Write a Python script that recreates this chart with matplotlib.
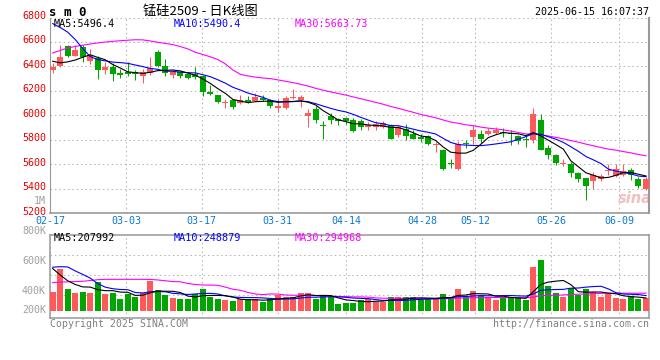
import numpy as np
import pandas as pd
import matplotlib
matplotlib.use("Agg")
import matplotlib.pyplot as plt

# daily bars 02-17 .. 06-13 (80 trading days)
opens = [6369, 6401, 6570, 6488, 6559, 6442, 6469, 6369, 6393, 6344,
         6352, 6352, 6325, 6347, 6516, 6407, 6328, 6352, 6339, 6336,
         6320, 6189, 6162, 6102, 6124, 6097, 6124, 6118, 6143, 6124,
         6059, 6059, 6140, 6121, 5990, 6053, 5920, 5993, 5971, 5975,
         5964, 5953, 5904, 5904, 5904, 5918, 5836, 5890, 5844, 5822,
         5827, 5753, 5712, 5608, 5562, 5767, 5822, 5849, 5849, 5855,
         5858, 5855, 5827, 5808, 5795, 5964, 5734, 5671, 5603, 5597,
         5529, 5488, 5460, 5479, 5542, 5499, 5507, 5548, 5479, 5397]
highs = [6429, 6578, 6572, 6575, 6578, 6543, 6488, 6437, 6429, 6380,
         6437, 6374, 6380, 6478, 6537, 6461, 6374, 6366, 6347, 6396,
         6333, 6244, 6167, 6129, 6135, 6162, 6156, 6184, 6167, 6135,
         6129, 6156, 6211, 6167, 6048, 6075, 5950, 6015, 5980, 5988,
         5981, 5973, 5945, 5953, 5953, 5932, 5918, 5926, 5877, 5844,
         5836, 5781, 5726, 5644, 5789, 5800, 5918, 5882, 5896, 5904,
         5899, 5877, 5836, 5836, 6063, 6014, 5753, 5679, 5644, 5616,
         5535, 5490, 5534, 5521, 5597, 5597, 5597, 5570, 5493, 5493]
lows = [6347, 6398, 6480, 6485, 6434, 6420, 6293, 6341, 6279, 6301,
        6325, 6287, 6265, 6328, 6393, 6325, 6306, 6306, 6293, 6293,
        6156, 6167, 6097, 6056, 6048, 6091, 6097, 6113, 6116, 6059,
        6026, 6048, 6135, 6069, 5900, 5939, 5803, 5925, 5920, 5925,
        5863, 5877, 5882, 5882, 5899, 5803, 5822, 5800, 5803, 5781,
        5753, 5699, 5548, 5570, 5548, 5734, 5762, 5773, 5836, 5844,
        5822, 5753, 5767, 5740, 5773, 5712, 5644, 5589, 5581, 5493,
        5452, 5307, 5397, 5460, 5507, 5493, 5499, 5471, 5405, 5392]
closes = [6396, 6478, 6488, 6537, 6475, 6497, 6369, 6393, 6341, 6333,
          6338, 6341, 6358, 6388, 6401, 6347, 6358, 6320, 6301, 6314,
          6189, 6176, 6107, 6107, 6067, 6124, 6110, 6146, 6124, 6075,
          6075, 6143, 6146, 6151, 6020, 5961, 5912, 5961, 5955, 5955,
          5871, 5904, 5918, 5932, 5937, 5808, 5904, 5827, 5808, 5805,
          5762, 5762, 5562, 5597, 5767, 5762, 5877, 5808, 5871, 5882,
          5852, 5849, 5786, 5795, 6008, 5718, 5671, 5608, 5608, 5526,
          5479, 5425, 5507, 5499, 5548, 5562, 5543, 5507, 5425, 5479]
# volume, thousands
volume = [354, 781, 405, 335, 348, 335, 537, 311, 335, 217,
          311, 248, 335, 555, 386, 292, 242, 217, 217, 311,
          411, 261, 217, 198, 179, 211, 211, 211, 160, 217,
          292, 261, 261, 335, 335, 217, 273, 248, 122, 147,
          147, 198, 211, 166, 166, 248, 248, 248, 248, 198,
          230, 230, 311, 248, 405, 261, 367, 292, 230, 198,
          261, 248, 248, 198, 819, 951, 461, 335, 261, 424,
          292, 411, 354, 261, 311, 242, 217, 273, 217, 230]

# moving-average values at the start of the window (history before 02-17)
ma5_head = [6442, 6429, 6437, 6452]
ma10_head = [6750, 6718, 6680, 6620, 6545, 6480, 6455, 6445, 6435]
ma30_head = [6510, 6530, 6550, 6563, 6573, 6583, 6592, 6599, 6605, 6610,
             6614, 6618, 6617, 6608, 6597, 6588, 6578, 6562, 6543, 6515,
             6497, 6478, 6456, 6420, 6370, 6335, 6322, 6312, 6305]
vma5_head = [790, 668, 560, 490]
vma10_head = [815, 825, 820, 745, 680, 610, 505, 440, 410]
vma30_head = [525, 535, 540, 545, 550, 565, 580, 587, 587, 587,
              587, 587, 587, 585, 575, 560, 545, 540, 510, 490,
              480, 478, 475, 440, 400, 380, 340, 310, 300]

tick_days = [0, 10, 20, 30, 39, 49, 56, 66, 75]
tick_labels = ["02-17", "03-03", "03-17", "03-31", "04-14",
               "04-28", "05-12", "05-26", "06-09"]
price_ticks = [5200, 5400, 5600, 5800, 6000, 6200, 6400, 6600, 6800]


def moving(values, n, head):
    s = pd.Series(values, dtype=float).rolling(n).mean()
    s.iloc[:len(head)] = head
    return s.values


RED = "#ff5a5a"
GREEN = "#00a600"
GRID = "#b4b4b4"
FRAME = "#999999"
MONO = "DejaVu Sans Mono"

W, H = 660, 360
fig = plt.figure(figsize=(6.6, 3.6), dpi=100)


def fx(x):
    return x / W


def fy(y):
    return 1 - y / H


n = len(closes)
x = np.arange(n)
o = np.array(opens); c = np.array(closes)
hi = np.array(highs); lo = np.array(lows)
up = c >= o
cols = [RED if u else GREEN for u in up]
tick_x = [(7.59 * k - 2.7) / 7.51 for k in tick_days]
xlim = (-0.36, 79.44)

# ---- price panel
ax = fig.add_axes([fx(50), fy(213), fx(599.3), (213 - 17.5) / H])
ax.vlines(x, lo, hi, colors=cols, lw=0.75, zorder=2)
body = np.maximum(np.abs(c - o), 9)
ax.bar(x, body, bottom=np.minimum(o, c), width=0.8, color=cols, zorder=3, linewidth=0)
ax.plot(x, moving(closes, 30, ma30_head), color="#ff00ff", lw=0.8, zorder=4)
ax.plot(x, moving(closes, 10, ma10_head), color="#0000ff", lw=0.8, zorder=4)
ax.plot(x, moving(closes, 5, ma5_head), color="black", lw=0.8, zorder=5)
ax.set_xlim(*xlim)
ax.set_ylim(5200, 6800)
ax.set_xticks(tick_x)
ax.set_yticks(price_ticks)
ax.set_xticklabels([])
ax.set_yticklabels([])
ax.tick_params(length=0)
ax.grid(True, color=GRID, lw=0.75, ls=(0, (1.4, 2.8)))
ax.spines["top"].set_visible(False)
ax.spines["left"].set_color(FRAME)
ax.spines["left"].set_linewidth(0.8)
ax.spines["bottom"].set_color(FRAME)
ax.spines["bottom"].set_linewidth(1.2)
ax.spines["right"].set_color(FRAME)
ax.spines["right"].set_linewidth(1.5)

for p in price_ticks:
    yy = 115 - (p - 6000) * 0.1225 - 1.2
    fig.text(fx(46), fy(yy), str(p), color="#e60000", family=MONO, fontsize=7.2,
             ha="right", va="center")
for tx, lab in zip(tick_days, tick_labels):
    fig.text(fx(50 + 7.59 * tx), fy(221.5), lab, color="#0a78d2", family=MONO,
             fontsize=7.2, ha="center", va="center")

ax.text(0.948, 0.035, "sina", transform=ax.transAxes, color="#f3c0c0", fontsize=10.5,
        style="italic", weight="bold", ha="left", va="bottom", zorder=1)

# ---- volume panel
vax = fig.add_axes([fx(50), fy(318), fx(599.3), (318 - 234.5) / H])
vax.bar(x, volume, width=0.8, color=cols, linewidth=0, zorder=3)
vax.plot(x, moving(volume, 30, vma30_head), color="#ff00ff", lw=0.8, zorder=4)
vax.plot(x, moving(volume, 10, vma10_head), color="#0000ff", lw=0.8, zorder=4)
vax.plot(x, moving(volume, 5, vma5_head), color="black", lw=0.8, zorder=5)
vax.set_xlim(*xlim)
vax.set_ylim(-141, 1431)
vax.set_xticks(tick_x)
vax.set_yticks([292, 668, 1045])
vax.set_xticklabels([])
vax.set_yticklabels([])
vax.tick_params(length=0)
vax.grid(True, color=GRID, lw=0.75, ls=(0, (1.4, 2.8)))
for s in vax.spines.values():
    s.set_color(FRAME)
    s.set_linewidth(1.1)

for lab, yy in [("1M", 200.5), ("800K", 231), ("600K", 261), ("400K", 290.7), ("200K", 310)]:
    fig.text(fx(46), fy(yy), lab, color="#a0a0a0", family=MONO, fontsize=7.2,
             ha="right", va="center")

# ---- header and legends
fig.text(fx(49), fy(12), "s m 0", family=MONO, weight="bold", fontsize=9, va="center")
fig.text(fx(200), fy(11), "锰硅2509 - 日K线图", family=["Noto Sans CJK SC", "DejaVu Sans"],
         fontsize=9.5, ha="center", va="center")
fig.text(fx(649), fy(12), "2025-06-15 16:07:37", family=MONO, fontsize=7.2,
         ha="right", va="center")

for lab, xx, col in [("MA5:5496.4", 54, "black"), ("MA10:5490.4", 174, "#0000ff"),
                     ("MA30:5663.73", 295, "#ff00ff")]:
    fig.text(fx(xx), fy(24), lab, family=MONO, fontsize=7.3, color=col, va="center")
for lab, xx, col in [("MA5:207992", 54, "black"), ("MA10:248879", 174, "#0000ff"),
                     ("MA30:294968", 295, "#ff00ff")]:
    fig.text(fx(xx), fy(238.3), lab, family=MONO, fontsize=7.3, color=col, va="center")

fig.text(fx(50), fy(324), "Copyright 2025 SINA.COM", family=MONO, fontsize=7.1,
         color="#808080", va="center")
fig.text(fx(649), fy(324), "http://finance.sina.com.cn", family=MONO, fontsize=7.1,
         color="#808080", ha="right", va="center")

fig.savefig("out.png", dpi=100)
